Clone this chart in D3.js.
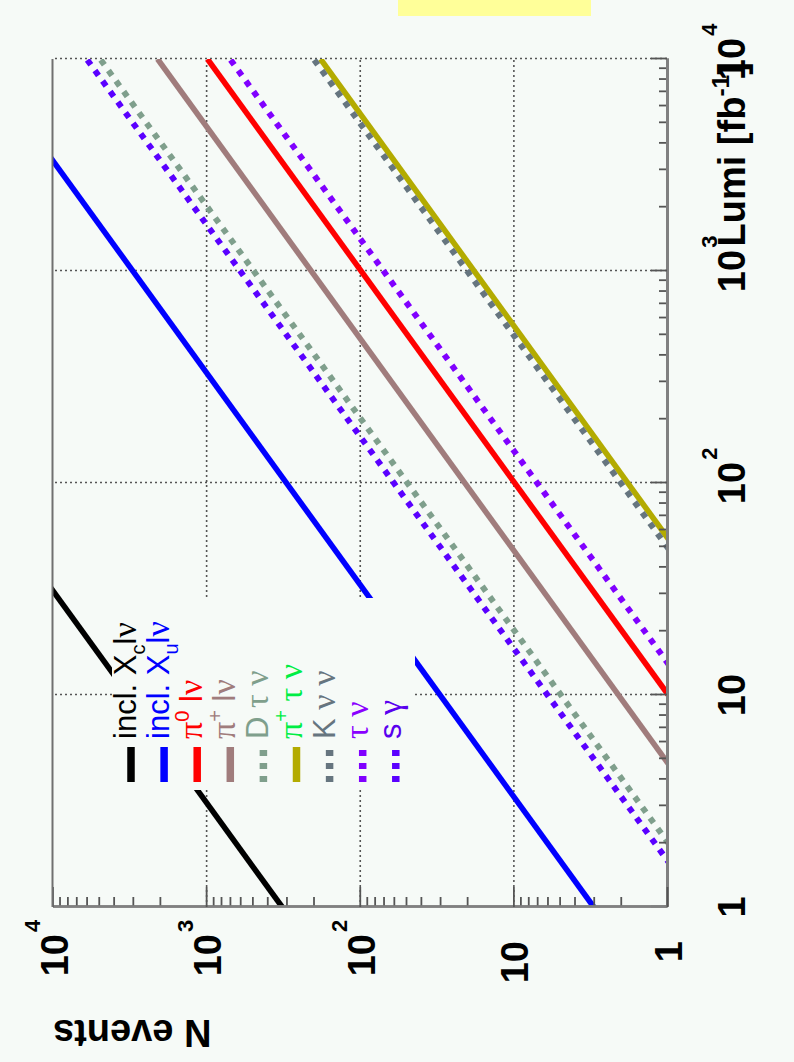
<!DOCTYPE html>
<html>
<head>
<meta charset="utf-8">
<script src="https://cdn.jsdelivr.net/npm/d3@7"></script>
<style>
html, body { margin: 0; padding: 0; background: #f6faf7; }
svg { display: block; }
text { font-family: "Liberation Sans", Arial, Helvetica, sans-serif; white-space: pre; }
</style>
</head>
<body>
<svg id="chart" width="794" height="1062"></svg>
<script>
// lumi range the lines are drawn over (fb^-1)
const lumiEnds = [1, 10000];

// expected N events at lumi = 1 and lumi = 1e4
const nXc = [320, 3200000];
const nXu = [3.0, 30000];
const nPi0 = [0.098, 980];
const nPiPlus = [0.207, 2070];
const nDTauNu = [0.49, 4900];
const nPiTauNu = [0.018, 180];
const nKNuNu = [0.020, 200];
const nTauNu = [0.07, 700];
const nSGamma = [0.6, 6000];

// tick values and labels (same decades on both axes)
const decades = [1, 10, 100, 1000, 10000];
const decadeLabels = [["1", ""], ["10", ""], ["10", "2"], ["10", "3"], ["10", "4"]];

// legend text, pieces: [text, kind]; kind g = greek, sub, sup
const legendLabels = [
  [["incl. X"], ["c", "sub"], ["l"], ["ν", "g"]],
  [["incl. X"], ["u", "sub"], ["l"], ["ν", "g"]],
  [["π", "g"], ["0", "sup"], [" l"], ["ν", "g"]],
  [["π", "g"], ["+", "sup"], [" l"], ["ν", "g"]],
  [["D "], ["τ ν", "g"]],
  [["π", "g"], ["+", "sup"], [" τ ν", "g"]],
  [["K "], ["ν ν", "g"]],
  [["τ ν", "g"]],
  [["s "], ["γ", "g"]]
];

const seriesValues = [nXc, nXu, nPi0, nPiPlus, nDTauNu, nPiTauNu, nKNuNu, nTauNu, nSGamma];
const lineColors = ["#000000", "#0000ff", "#ff0000", "#a07c7c", "#7f9f8c", "#b3ab00", "#66757f", "#8000ff", "#5a00ff"];
const textColors = ["#000000", "#0000ff", "#ff0000", "#a07c7c", "#7f9f8c", "#00ee44", "#66757f", "#8a00ff", "#5a00ee"];
const dotted = [false, false, false, false, true, false, true, true, true];

const bg = "#f6faf7";
const W = 1062; // chart drawn sideways: original width becomes page height

const svg = d3.select("#chart");
svg.append("rect").attr("width", 794).attr("height", 1062).attr("fill", bg);

// the whole plot is turned 90 degrees counter-clockwise
const g = svg.append("g").attr("transform", `translate(0,${W}) rotate(-90)`);

const x = d3.scaleLog().domain([1, 1e4]).range([155, 1003]);
const y = d3.scaleLog().domain([1, 1e4]).range([667, 52.5]);
const x0 = x.range()[0], x1 = x.range()[1];
const y0 = y.range()[0], y1 = y.range()[1];

g.append("defs").append("clipPath").attr("id", "plotclip")
  .append("rect").attr("x", x0).attr("y", y1).attr("width", x1 - x0).attr("height", y0 - y1);

// grid
const gridStyle = sel => {
  sel.select(".domain").remove();
  sel.selectAll(".tick line").attr("stroke", "#555").attr("stroke-width", 1.6).attr("stroke-dasharray", "2,3");
};
g.append("g").attr("transform", `translate(0,${y0})`)
  .call(d3.axisBottom(x).tickValues(decades.slice(1)).tickSize(-(y0 - y1)).tickFormat(""))
  .call(gridStyle);
g.append("g").attr("transform", `translate(${x0},0)`)
  .call(d3.axisLeft(y).tickValues(decades.slice(1, 4)).tickSize(-(x1 - x0)).tickFormat(""))
  .call(gridStyle);

// series lines
const line = d3.line().x(d => x(d[0])).y(d => y(d[1]));
g.append("g").attr("clip-path", "url(#plotclip)")
  .selectAll("path")
  .data(seriesValues)
  .join("path")
  .attr("d", vals => line(lumiEnds.map((l, i) => [l, vals[i]])))
  .attr("fill", "none")
  .attr("stroke", (d, i) => lineColors[i])
  .attr("stroke-width", (d, i) => dotted[i] ? 6 : 5.6)
  .attr("stroke-dasharray", (d, i) => dotted[i] ? "6,7" : null);

// legend
const leg = g.append("g");
leg.append("rect").attr("x", 272).attr("y", 112).attr("width", 192).attr("height", 303).attr("fill", bg);
legendLabels.forEach((parts, i) => {
  const cy = 131 + 33.1 * i;
  leg.append("line")
    .attr("x1", 280).attr("x2", 315).attr("y1", cy).attr("y2", cy)
    .attr("stroke", lineColors[i])
    .attr("stroke-width", 7.5)
    .attr("stroke-dasharray", dotted[i] ? "6,7" : null);
  const t = leg.append("text")
    .attr("x", 323).attr("y", cy + 5)
    .attr("font-size", 31)
    .attr("fill", textColors[i]);
  richText(t, parts, 31);
});

function richText(sel, parts, size) {
  let shift = 0;
  parts.forEach(([txt, kind]) => {
    let target = 0, fs = size;
    if (kind === "sub") { target = size * 0.3; fs = size * 0.65; }
    if (kind === "sup") { target = -size * 0.42; fs = size * 0.65; }
    if (kind === "g") fs = size * 1.1;
    const ts = sel.append("tspan").text(txt).attr("font-size", fs);
    if (target - shift !== 0) ts.attr("dy", target - shift);
    if (kind === "g") ts.attr("font-family", "'Liberation Serif', 'DejaVu Serif', serif");
    shift = target;
  });
}

// frame and ticks
const minor = [];
decades.slice(0, 4).forEach(d => { for (let m = 2; m <= 9; m++) minor.push(m * d); });

const axisStyle = (sel, w) => {
  sel.select(".domain").attr("stroke", "#808080").attr("stroke-width", w);
  sel.selectAll(".tick line").attr("stroke", "#555").attr("stroke-width", 1.8);
};
g.append("g").attr("transform", `translate(0,${y0})`)
  .call(d3.axisBottom(x).tickValues(minor).tickSize(-8).tickSizeOuter(0).tickFormat(""))
  .call(axisStyle, 3);
g.append("g").attr("transform", `translate(0,${y0})`)
  .call(d3.axisBottom(x).tickValues(decades).tickSize(-16).tickSizeOuter(0).tickFormat(""))
  .call(axisStyle, 3);
g.append("g").attr("transform", `translate(${x0},0)`)
  .call(d3.axisLeft(y).tickValues(minor).tickSize(-10).tickSizeOuter(0).tickFormat(""))
  .call(axisStyle, 2.5);
g.append("g").attr("transform", `translate(${x0},0)`)
  .call(d3.axisLeft(y).tickValues(decades).tickSize(-20).tickSizeOuter(0).tickFormat(""))
  .call(axisStyle, 2.5);
g.append("line").attr("x1", x0).attr("x2", x1).attr("y1", y1).attr("y2", y1)
  .attr("stroke", "#707070").attr("stroke-width", 2);

// tick labels
const lab = g.append("g").attr("font-weight", "bold").attr("fill", "#000");
decades.forEach((v, i) => {
  const [base, ex] = decadeLabels[i];
  const bx = lab.append("text").attr("x", x(v)).attr("y", 745)
    .attr("text-anchor", "middle").attr("font-size", 38).text(base);
  if (ex) {
    const wdt = bx.node().getComputedTextLength();
    lab.append("text").attr("x", x(v) + wdt / 2 + 2).attr("y", 717)
      .attr("font-size", 22).text(ex);
  }
  const ty = y(v) + 15;
  lab.append("text").attr("x", ex ? 128 : 121).attr("y", ty)
    .attr("text-anchor", "end").attr("font-size", 38).text(base);
  if (ex) {
    lab.append("text").attr("x", 130).attr("y", ty - 28)
      .attr("font-size", 22).text(ex);
  }
});

// axis titles
const xt = g.append("text").attr("x", 1000).attr("y", 745)
  .attr("text-anchor", "end").attr("font-weight", "bold").attr("font-size", 38);
richText(xt, [["Lumi [fb"], ["-1", "sup"], ["]"]], 38);

g.append("text")
  .attr("transform", "translate(42,53) rotate(-90)")
  .attr("text-anchor", "end").attr("font-weight", "bold").attr("font-size", 38)
  .text("N events");

// yellow strip cut by the page edge
g.append("rect").attr("x", 1046).attr("y", 398).attr("width", 16).attr("height", 193).attr("fill", "#ffff99");
</script>
</body>
</html>
